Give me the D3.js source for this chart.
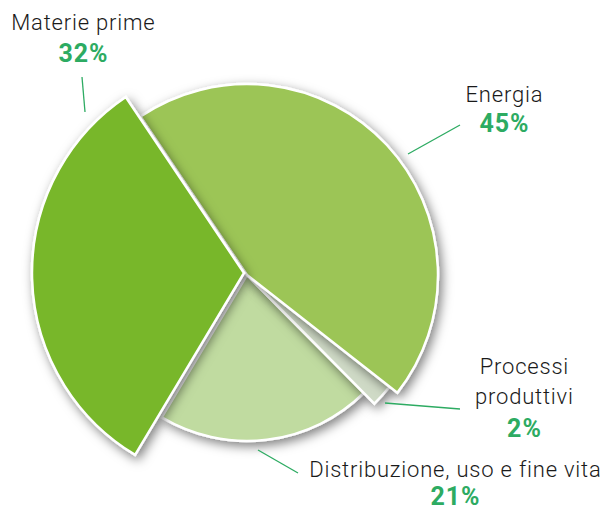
<!DOCTYPE html>
<html><head><meta charset="utf-8">
<script src="https://cdn.jsdelivr.net/npm/d3@7"></script>
<style>body{margin:0;background:#fff}svg{display:block}</style>
</head><body>
<svg id="c" width="604" height="511"></svg>
<script>
const categories = ["Energia", "Processi produttivi", "Distribuzione, uso e fine vita", "Materie prime"];
const values = [45, 2, 21, 32];
const labelLines = [["Energia"], ["Processi", "produttivi"], ["Distribuzione, uso e fine vita"], ["Materie prime"]];
const pctLabels = ["45%", "2%", "21%", "32%"];

const svg = d3.select("#c");
const cx = 247, cy = 275;
const deg = Math.PI / 180;
const style = {
  "Energia": {r: 191, fill: "#9cc556", dx: 0, dy: 0},
  "Processi produttivi": {r: 181, fill: "#cfdac6", dx: 0, dy: 0},
  "Distribuzione, uso e fine vita": {r: 166, fill: "#c0dba0", dx: 0, dy: 0},
  "Materie prime": {r: 212, fill: "#78b72b", dx: -3, dy: -2}
};
const defs = svg.append("defs");
const f = defs.append("filter").attr("id", "sh").attr("x", "-30%").attr("y", "-30%").attr("width", "160%").attr("height", "160%");
f.append("feDropShadow").attr("dx", 3).attr("dy", 4).attr("stdDeviation", 5.5).attr("flood-color", "#000").attr("flood-opacity", 0.5);

const pie = d3.pie().sort(null).value(d => d.v).startAngle(-33.9 * deg).endAngle(326.1 * deg);
const data = categories.map((c, i) => ({c, v: values[i], i}));
const arcs = pie(data);
const drawOrder = ["Distribuzione, uso e fine vita", "Processi produttivi", "Energia", "Materie prime"];
const g = svg.append("g").attr("transform", `translate(${cx},${cy})`);
drawOrder.forEach(name => {
  const a = arcs.find(d => d.data.c === name);
  const s = style[name];
  const arc = d3.arc().innerRadius(0).outerRadius(s.r);
  g.append("path").attr("d", arc(a))
    .attr("transform", `translate(${s.dx},${s.dy})`)
    .attr("fill", s.fill).attr("stroke", "#fff").attr("stroke-width", 2.5)
    .attr("stroke-linejoin", "miter")
    .attr("filter", "url(#sh)");
});

// Labels
const green = "#2dab62";
const lab = [
  {x: 504, y: 102, gap: 30, leader: [[460,125],[408,154]]},
  {x: 524, y: 374, gap: 33, leader: [[385,403],[460,409]]},
  {x: 455, y: 477, gap: 28, leader: [[258,450],[298,473]]},
  {x: 83, y: 30, gap: 32, leader: [[82,77],[85,112]]}
];
const lineH = 30;
categories.forEach((c, i) => {
  const L = lab[i];
  const lines = labelLines[i];
  lines.forEach((t, k) => {
    svg.append("text").attr("x", L.x + 0.4).attr("y", L.y + k * lineH)
      .attr("text-anchor", "middle").attr("font-family", "Roboto, sans-serif")
      .attr("font-weight", 300).attr("font-size", 22).attr("letter-spacing", 0.8)
      .attr("fill", "#1a1a1a").text(t);
  });
  svg.append("text").attr("x", L.x + 0.5).attr("y", L.y + (lines.length - 1) * lineH + L.gap)
    .attr("text-anchor", "middle").attr("font-family", "Roboto, sans-serif")
    .attr("font-weight", 700).attr("font-size", 25).attr("letter-spacing", 1)
    .attr("fill", green).text(pctLabels[i]);
  svg.append("line").attr("x1", L.leader[0][0]).attr("y1", L.leader[0][1])
    .attr("x2", L.leader[1][0]).attr("y2", L.leader[1][1])
    .attr("stroke", green).attr("stroke-width", 1.3);
});
</script>
</body></html>
